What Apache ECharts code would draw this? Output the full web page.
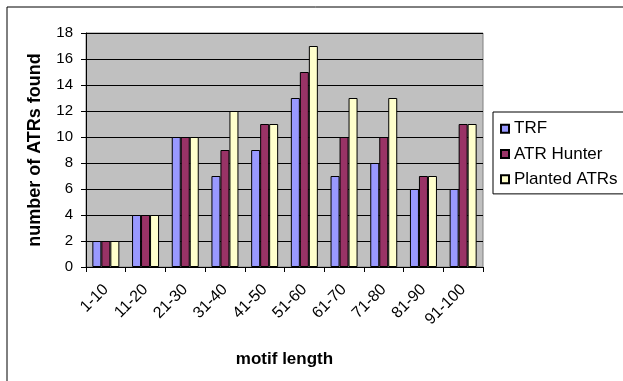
<!DOCTYPE html>
<html>
<head>
<script src="https://cdn.jsdelivr.net/npm/echarts@6/dist/echarts.min.js"></script>
<style>
html, body { margin: 0; height: 100%; background: #fff; }
#main { width: 623px; height: 381px; }
</style>
</head>
<body>
<div id="main"></div>
<script>
var categories = ['1-10', '11-20', '21-30', '31-40', '41-50', '51-60', '61-70', '71-80', '81-90', '91-100'];
var trf = [2, 4, 10, 7, 9, 13, 7, 8, 6, 6];
var atrHunter = [2, 4, 10, 9, 11, 15, 10, 10, 7, 11];
var planted = [2, 4, 10, 12, 11, 17, 13, 13, 7, 11];

var FONT = 'Liberation Sans, Arial, sans-serif';
var myChart = echarts.init(document.getElementById('main'));

function bar(name, data, color) {
	return {
		name: name,
		type: 'bar',
		data: data,
		barGap: '0%',
		barCategoryGap: '32%',
		itemStyle: { color: color, borderColor: '#000', borderWidth: 1 }
	};
}

var option = {
	animation: false,
	textStyle: { fontFamily: FONT },
	graphic: [{
		type: 'rect',
		shape: { x: 7, y: 7, width: 700, height: 500 },
		style: { fill: 'none', stroke: '#000', lineWidth: 1 },
		silent: true
	}],
	grid: {
		left: 86, right: 140, top: 33, bottom: 114,
		outerBoundsMode: 'none',
		show: true, backgroundColor: '#c0c0c0', borderColor: '#808080', borderWidth: 1
	},
	legend: {
		orient: 'vertical',
		left: 493, top: 112,
		padding: [2, 8, 0, 7],
		itemWidth: 8, itemHeight: 8, itemGap: -4,
		icon: 'rect',
		borderColor: '#000', borderWidth: 1,
		textStyle: { fontFamily: FONT, fontSize: 17, color: '#000' },
		data: ['TRF', 'ATR Hunter', 'Planted ATRs']
	},
	xAxis: {
		type: 'category',
		data: categories,
		name: 'motif length',
		nameLocation: 'middle',
		nameGap: 78,
		nameTextStyle: { fontFamily: FONT, fontSize: 17, fontWeight: 'bold', color: '#000' },
		axisLine: { lineStyle: { color: '#000', width: 1 } },
		axisTick: { show: true, length: 5, lineStyle: { color: '#000' } },
		axisLabel: { interval: 0, rotate: 45, fontSize: 16, color: '#000', margin: 20 },
		splitLine: { show: false }
	},
	yAxis: {
		type: 'value',
		min: 0, max: 18, interval: 2,
		name: 'number of ATRs found',
		nameLocation: 'middle',
		nameGap: 35,
		nameMoveOverlap: false,
		nameTextStyle: { fontFamily: FONT, fontSize: 18, fontWeight: 'bold', color: '#000' },
		axisLine: { show: true, lineStyle: { color: '#000', width: 1 } },
		axisTick: { show: true, length: 5, lineStyle: { color: '#000' } },
		axisLabel: { fontSize: 15, color: '#000', margin: 13 },
		splitLine: { lineStyle: { color: '#000', width: 1 } }
	},
	series: [
		bar('TRF', trf, '#9999ff'),
		bar('ATR Hunter', atrHunter, '#993366'),
		bar('Planted ATRs', planted, '#ffffcc')
	]
};
myChart.setOption(option);
</script>
</body>
</html>
